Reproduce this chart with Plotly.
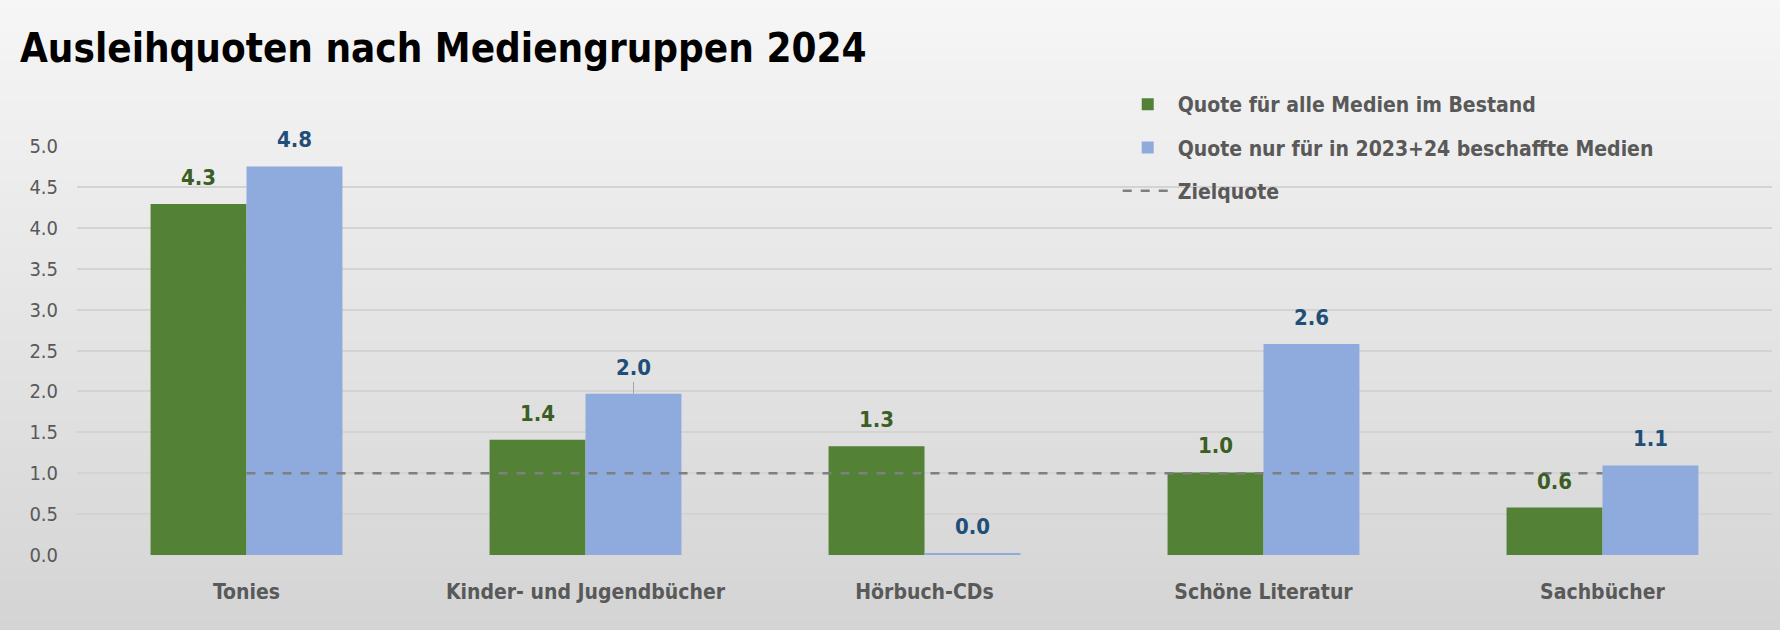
import plotly.graph_objects as go

categories = ["Tonies", "Kinder- und Jugendbücher", "Hörbuch-CDs", "Schöne Literatur", "Sachbücher"]
quote_alle = [4.29, 1.41, 1.33, 1.01, 0.58]
quote_neu = [4.75, 1.97, 0.02, 2.58, 1.095]
zielquote = [1.0, 1.0, 1.0, 1.0, 1.0]
y_ticks = [0.0, 0.5, 1.0, 1.5, 2.0, 2.5, 3.0, 3.5, 4.0, 4.5, 5.0]

names = ["Quote für alle Medien im Bestand", "Quote nur für in 2023+24 beschaffte Medien", "Zielquote"]
GREEN = "#538135"
BLUE = "#8faadc"
GREEN_TXT = "#3a5e24"
BLUE_TXT = "#1f4e79"
GRAY = "#595959"
FONT = "DejaVu Sans Condensed, Open Sans, sans-serif"

W, H = 1780, 630
ML, MR, MT, MB = 77, 8, 146, 75
plot_h = H - MT - MB

fig = go.Figure()
fig.add_trace(go.Bar(x=categories, y=quote_alle, name="<b>%s</b>" % names[0], marker_color=GREEN,
                     marker_line_width=0, legendgroup="a", hoverinfo="y"))
fig.add_trace(go.Bar(x=categories, y=quote_neu, name="<b>%s</b>" % names[1], marker_color=BLUE,
                     marker_line_width=0, legendgroup="b", hoverinfo="y"))
fig.add_trace(go.Scatter(x=categories, y=zielquote, name="<b>%s</b>" % names[2], mode="lines",
                         line=dict(color="#7f7f7f", width=2.5, dash="dash"),
                         legendgroup="c"))

# gradient background
shapes = []
steps = 63
top_c = (246, 246, 246)
bot_c = (212, 212, 212)
for i in range(steps):
    y0p = H * i / steps
    y1p = H * (i + 1) / steps + 1
    t = (i + 0.5) / steps
    c = tuple(int(round(top_c[k] + (bot_c[k] - top_c[k]) * t)) for k in range(3))
    shapes.append(dict(type="rect", xref="paper", yref="paper", layer="below",
                       x0=-ML / (W - ML - MR) - 0.01, x1=1 + MR / (W - ML - MR) + 0.01,
                       y0=(H - MB - y1p) / plot_h, y1=(H - MB - y0p) / plot_h,
                       line=dict(width=0), fillcolor="rgb(%d,%d,%d)" % c))

annotations = []
offset = 48
for si, (vals, sh, col) in enumerate([(quote_alle, -offset, GREEN_TXT), (quote_neu, offset, BLUE_TXT)]):
    for c, v in zip(categories, vals):
        if c == "Kinder- und Jugendbücher" and si == 1:
            annotations.append(dict(x=c, y=v, xref="x", yref="y", xshift=sh,
                                    text="<b>%.1f</b>" % v, showarrow=True, arrowhead=0,
                                    arrowwidth=1, arrowcolor="#a6a6a6", ax=0, ay=-26,
                                    font=dict(family=FONT, size=22, color=col)))
        else:
            annotations.append(dict(x=c, y=v, xref="x", yref="y", xshift=sh, yshift=12,
                                    yanchor="bottom", text="<b>%.1f</b>" % v, showarrow=False,
                                    font=dict(family=FONT, size=22, color=col)))

fig.update_layout(
    width=W, height=H,
    margin=dict(l=ML, r=MR, t=MT, b=MB),
    paper_bgcolor="#e6e6e6",
    plot_bgcolor="rgba(0,0,0,0)",
    barmode="group",
    bargap=0.434,
    bargroupgap=0,
    shapes=shapes,
    annotations=annotations,
    title=dict(text="<b>Ausleihquoten nach Mediengruppen 2024</b>", x=20 / W, xanchor="left",
               y=1 - 48 / H, yanchor="middle",
               font=dict(family=FONT, size=40, color="#000000")),
    legend=dict(x=0.614, y=1 + 62 / plot_h, xanchor="left", yanchor="top",
                bgcolor="rgba(0,0,0,0)", traceorder="grouped", tracegroupgap=13,
                font=dict(family=FONT, size=21, color=GRAY), itemwidth=50),
    showlegend=True,
    xaxis=dict(showgrid=False, showline=False, ticks="",
               tickvals=categories, ticktext=["<b>%s</b>" % c for c in categories],
               ticklabelstandoff=22,
               tickfont=dict(family=FONT, size=21, color=GRAY)),
    yaxis=dict(range=[0, 5.0], tickvals=y_ticks, ticktext=["%.1f" % t for t in y_ticks],
               showgrid=True, gridcolor="#d3d3d3", gridwidth=1.5, zeroline=False,
               showline=False, ticks="", ticklabelstandoff=18,
               tickfont=dict(family=FONT, size=20, color=GRAY)),
)
fig.write_html("out.html", config={"displayModeBar": False},
               post_script="document.body.style.margin='0px';document.body.style.overflow='hidden';")
